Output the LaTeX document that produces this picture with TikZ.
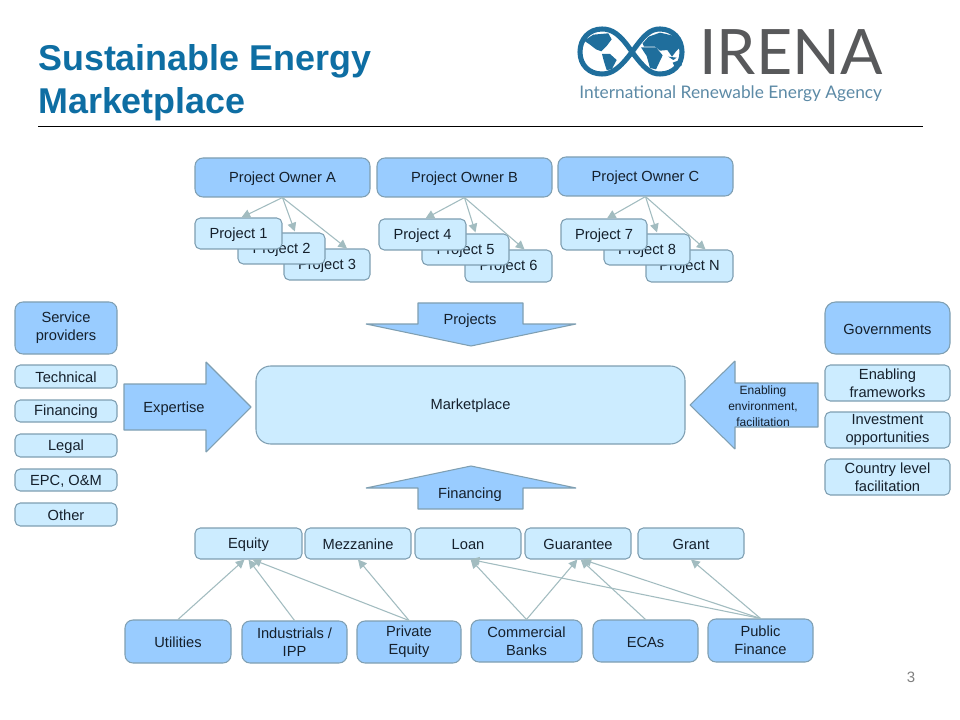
\documentclass[tikz,border=0pt]{standalone}
\usepackage{fontspec}
\setmainfont{Liberation Sans}
\newfontfamily\logofont{Lato}
\usetikzlibrary{arrows.meta}
\definecolor{boxdark}{HTML}{99CCFF}
\definecolor{boxlight}{HTML}{CCECFF}
\definecolor{boxline}{HTML}{7F9FB2}
\definecolor{conn}{HTML}{A2BCC0}
\definecolor{titleblue}{HTML}{0E6EA3}
\definecolor{txt}{HTML}{15202C}
\definecolor{logoblue}{HTML}{1F6E9C}
\definecolor{logogray}{HTML}{58595B}
\definecolor{logotext}{HTML}{5C8AA6}
\tikzset{
  base/.style={draw=boxline,line width=0.8pt,inner sep=0pt,align=center,text=txt,
    font=\fontsize{11}{13.5}\selectfont,execute at begin node={\rule{0pt}{9.3pt}}},
  dark/.style={base,fill=boxdark,rounded corners=6pt},
  light/.style={base,fill=boxlight,rounded corners=4pt},
  blockarrow/.style={fill=boxdark,draw=boxline,line width=0.8pt,line join=bevel},
  label/.style={inner sep=0pt,align=center,text=txt,font=\fontsize{11}{13.5}\selectfont},
  conn/.style={draw=conn,line width=0.8pt,-{Triangle[length=6.5pt,width=6.5pt]}}
}
\newcommand\bx[7]{\node[#2,minimum width={(#5-#3)*0.75pt},minimum height={(#6-#4)*0.75pt}] (#1) at ({(#3+#5)/2},{(#4+#6)/2}) {#7};}
\begin{document}
\begin{tikzpicture}[x=0.75pt,y=-0.75pt]
\useasboundingbox (0,0) rectangle (960,720);
\fill[white] (0,0) rectangle (960,720);
% title
\node[anchor=west,inner sep=0pt,align=left,text=titleblue,font=\fontsize{26.9}{32.25}\selectfont\bfseries] (title) at (38,82.5) {Sustainable Energy\\Marketplace};
\coordinate (ruleL) at (38,127);
\coordinate (ruleR) at (923,127);
\draw[black,line width=0.75pt] (ruleL) -- (ruleR);
\node[text=gray,inner sep=0pt,font=\fontsize{11.25}{13.5}\selectfont] (pagenum) at (911,677) {3};
% logo
\begin{scope}[shift={(560,10)},x=0.25pt,y=-0.25pt]
  \fill[logoblue] (72,92) -- (100,74) -- (145,70) -- (155,88) -- (140,108) -- (124,124) -- (108,118) -- (90,104) -- cycle;
  \fill[logoblue] (126,132) -- (150,132) -- (170,150) -- (155,178) -- (140,180) -- (132,155) -- cycle;
  \fill[logoblue] (248,100) -- (266,80) -- (300,68) -- (352,80) -- (368,104) -- (348,124) -- (336,140) -- (322,120) -- (300,122) -- (285,110) -- (252,110) -- cycle;
  \fill[logoblue] (243,112) -- (288,112) -- (308,136) -- (288,178) -- (270,174) -- (260,138) -- cycle;
  \fill[logoblue] (338,158) -- (360,150) -- (366,166) -- (345,172) -- cycle;
  \fill[logoblue] (325,140) -- (350,143) -- (340,150) -- cycle;
\end{scope}
\draw[logoblue,line width=3.8pt] (632,52) .. controls (620,34) and (612,29) .. (602,29) .. controls (589,29) and (580,39) .. (580,52) .. controls (580,65) and (589,74) .. (602,74) .. controls (612,74) and (620,68) .. (632,52) .. controls (644,35) and (650,29) .. (660,29) .. controls (673,29) and (682,39) .. (682,52) .. controls (682,65) and (673,74) .. (660,74) .. controls (650,74) and (644,68) .. (632,52);
\node[inner sep=0pt,anchor=west,text=logogray] (logoname) at (699,52) {\logofont\fontsize{47}{47}\selectfont IRENA};
\node[inner sep=0pt,anchor=west,text=logotext] (logosub) at (579,94) {\logofont\fontsize{13}{15}\selectfont International Renewable Energy Agency};
% owners
\bx{ownA}{dark}{195}{158}{370}{197}{Project Owner A}
\bx{ownB}{dark}{377}{158}{552}{197}{Project Owner B}
\bx{ownC}{dark}{558}{157}{733}{196}{Project Owner C}
% projects
\bx{p3}{light}{284}{249}{370}{280}{Project 3}
\bx{p2}{light}{238}{233}{325}{264}{Project 2}
\bx{p1}{light}{195}{218}{282}{249}{Project 1}
\bx{p6}{light}{465}{250}{552}{282}{Project 6}
\bx{p5}{light}{422}{234}{509}{265}{Project 5}
\bx{p4}{light}{379}{219}{466}{250}{Project 4}
\bx{pN}{light}{646}{250}{733}{282}{Project N}
\bx{p8}{light}{604}{234}{690}{265}{Project 8}
\bx{p7}{light}{561}{219}{647}{250}{Project 7}
\draw[conn] (ownA.south) -- ([xshift=2.25pt]p1.north);
\draw[conn] (ownA.south) -- ([xshift=10pt,yshift=0.75pt]p2.north);
\draw[conn] (ownA.south) -- ([xshift=15pt]p3.north);
\draw[conn] (ownB.south) -- ([xshift=2.25pt]p4.north);
\draw[conn] (ownB.south) -- ([xshift=7.5pt,yshift=0.75pt]p5.north);
\draw[conn] (ownB.south) -- ([xshift=12pt]p6.north);
\draw[conn] (ownC.south) -- ([xshift=2.25pt]p7.north);
\draw[conn] (ownC.south) -- ([xshift=7.5pt,yshift=0.75pt]p8.north);
\draw[conn] (ownC.south) -- ([xshift=12pt]pN.north);
% block arrows
\draw[blockarrow] (418,303) -- (523,303) -- (523,324) -- (576,324) -- (471,346) -- (366,324) -- (418,324) -- cycle;
\node[label] (projects) at (470,320.5) {Projects};
\draw[blockarrow] (471,466) -- (576,488) -- (523,488) -- (523,509) -- (418,509) -- (418,488) -- (366,488) -- cycle;
\node[label] (financing) at (470,495) {Financing};
\draw[blockarrow] (124,384) -- (206,384) -- (206,362) -- (251,407) -- (206,452) -- (206,430) -- (124,430) -- cycle;
\node[label] (expertise) at (174,408.5) {Expertise};
\draw[blockarrow] (690,405) -- (735,361) -- (735,383) -- (818,383) -- (818,427) -- (735,427) -- (735,449) -- cycle;
\node[label,font=\fontsize{9}{12}\selectfont] (enabling) at (763,406) {Enabling\\environment,\\facilitation};
% marketplace
\bx{market}{light,rounded corners=11pt}{256}{366}{685}{444}{Marketplace}
% left column
\bx{sp}{dark}{15}{302}{117}{354}{Service\\providers}
\bx{tech}{light}{15}{365}{117}{388}{Technical}
\bx{fin}{light}{15}{400}{117}{422}{Financing}
\bx{legal}{light}{15}{434}{117}{457}{Legal}
\bx{epc}{light}{15}{469}{117}{491}{EPC, O\&M}
\bx{other}{light}{15}{503}{117}{526}{Other}
% right column
\bx{gov}{dark,rounded corners=8pt}{825}{302}{950}{354}{Governments}
\bx{ef}{light}{825}{365}{950}{401}{Enabling\\frameworks}
\bx{io}{light}{825}{412}{950}{448}{Investment\\opportunities}
\bx{cl}{light}{825}{459}{950}{495}{Country level\\facilitation}
% instruments
\bx{equity}{light}{195}{528}{302}{559}{Equity}
\bx{mezz}{light}{305}{528}{411}{559}{Mezzanine}
\bx{loan}{light}{415}{528}{521}{559}{Loan}
\bx{guar}{light}{525}{528}{631}{559}{Guarantee}
\bx{grant}{light}{638}{528}{744}{559}{Grant}
% sources
\bx{util}{dark}{125}{620}{231}{663}{Utilities}
\bx{ind}{dark}{242}{621}{347}{663}{Industrials /\\IPP}
\bx{pe}{dark}{357}{621}{461}{663}{Private\\Equity}
\bx{cb}{dark}{471}{620}{582}{662}{Commercial\\Banks}
\bx{eca}{dark}{593}{620}{698}{662}{ECAs}
\bx{pf}{dark}{708}{619}{813}{662}{Public\\Finance}
\draw[conn] (util.north) -- ([xshift=-3pt]equity.south);
\draw[conn] (ind.north) -- ([xshift=0pt]equity.south);
\draw[conn] (pe.north) -- ([xshift=3pt]equity.south);
\draw[conn] (pe.north) -- (mezz.south);
\draw[conn] (cb.north) -- ([xshift=2pt]loan.south);
\draw[conn] (cb.north) -- ([xshift=-0.5pt]guar.south);
\draw[conn] (eca.north) -- ([xshift=2pt]guar.south);
\draw[conn] (pf.north) -- ([xshift=2pt]loan.south);
\draw[conn] (pf.north) -- ([xshift=3.5pt]guar.south);
\draw[conn] (pf.north) -- (grant.south);
\end{tikzpicture}
\end{document}
